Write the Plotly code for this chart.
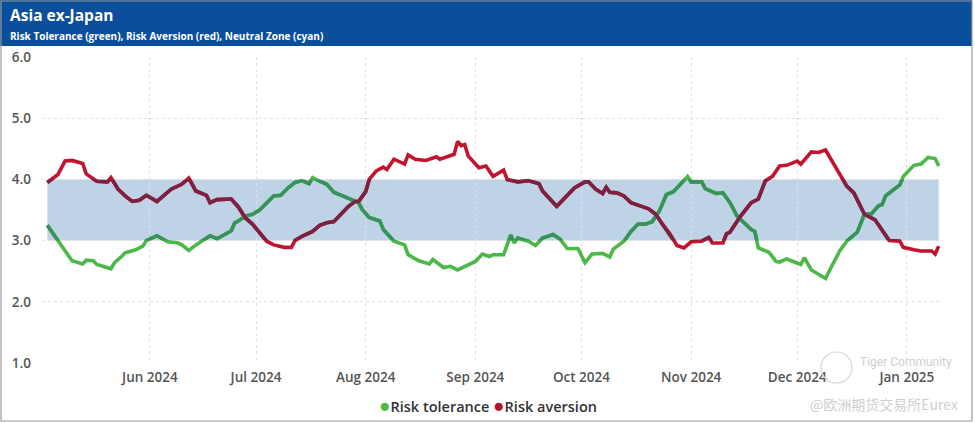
import plotly.graph_objects as go

# ---------------- data ----------------
tol_dates = [
    "2024-05-03","2024-05-07","2024-05-10","2024-05-13","2024-05-14","2024-05-16","2024-05-17","2024-05-21","2024-05-22","2024-05-24","2024-05-25","2024-05-28","2024-05-30","2024-05-31",
    "2024-06-03","2024-06-06","2024-06-09","2024-06-10","2024-06-12","2024-06-14","2024-06-16","2024-06-18","2024-06-20","2024-06-22","2024-06-24","2024-06-25","2024-06-26","2024-06-28","2024-06-30",
    "2024-07-02","2024-07-04","2024-07-06","2024-07-08","2024-07-10","2024-07-12","2024-07-14","2024-07-16","2024-07-17","2024-07-19","2024-07-21","2024-07-23","2024-07-25","2024-07-28","2024-07-30","2024-07-31",
    "2024-08-02","2024-08-05","2024-08-06","2024-08-09","2024-08-12","2024-08-13","2024-08-14","2024-08-16","2024-08-19","2024-08-20","2024-08-23","2024-08-25","2024-08-27","2024-08-30",
    "2024-09-01","2024-09-03","2024-09-05","2024-09-06","2024-09-09","2024-09-11","2024-09-12","2024-09-13","2024-09-16","2024-09-18","2024-09-20","2024-09-23","2024-09-25","2024-09-27","2024-09-30",
    "2024-10-02","2024-10-04","2024-10-07","2024-10-09","2024-10-10","2024-10-13","2024-10-15","2024-10-17","2024-10-19","2024-10-21","2024-10-23","2024-10-25","2024-10-27","2024-10-29","2024-10-31",
    "2024-11-01","2024-11-04","2024-11-05","2024-11-08","2024-11-10","2024-11-12","2024-11-14","2024-11-16","2024-11-18","2024-11-19","2024-11-20","2024-11-23","2024-11-25","2024-11-26","2024-11-28",
    "2024-12-02","2024-12-03","2024-12-05","2024-12-09","2024-12-11","2024-12-13","2024-12-15","2024-12-18","2024-12-20","2024-12-22","2024-12-24","2024-12-25","2024-12-26","2024-12-30","2024-12-31",
    "2025-01-03","2025-01-05","2025-01-07","2025-01-09","2025-01-10",
]
tol_values = [
    3.25,2.93,2.67,2.62,2.68,2.67,2.61,2.54,2.64,2.74,2.80,2.85,2.91,3.00,
    3.08,2.98,2.96,2.93,2.84,2.93,3.00,3.08,3.03,3.10,3.16,3.29,3.32,3.40,3.43,
    3.50,3.62,3.73,3.74,3.86,3.95,3.98,3.93,4.03,3.97,3.92,3.79,3.74,3.67,3.62,3.51,
    3.38,3.32,3.18,2.99,2.93,2.77,2.74,2.67,2.62,2.69,2.56,2.58,2.52,2.61,
    2.66,2.78,2.74,2.77,2.77,3.09,2.96,3.04,2.99,2.92,3.04,3.10,3.02,2.87,2.87,
    2.64,2.78,2.79,2.73,2.86,2.99,3.15,3.27,3.27,3.31,3.48,3.75,3.80,3.92,4.05,
    3.96,3.96,3.85,3.77,3.78,3.62,3.40,3.29,3.18,3.15,2.88,2.81,2.66,2.65,2.70,
    2.61,2.72,2.52,2.38,2.61,2.83,2.99,3.14,3.43,3.44,3.57,3.59,3.73,3.91,4.05,
    4.23,4.25,4.36,4.34,4.22,
]

ave_dates = [
    "2024-05-03","2024-05-06","2024-05-08","2024-05-10","2024-05-13","2024-05-14","2024-05-17","2024-05-20","2024-05-21","2024-05-23","2024-05-25","2024-05-27","2024-05-29","2024-05-31",
    "2024-06-03","2024-06-05","2024-06-07","2024-06-10","2024-06-12","2024-06-14","2024-06-17","2024-06-18","2024-06-20","2024-06-24","2024-06-26","2024-06-28","2024-06-30",
    "2024-07-02","2024-07-04","2024-07-06","2024-07-09","2024-07-11","2024-07-12","2024-07-14","2024-07-17","2024-07-19","2024-07-21","2024-07-23","2024-07-25","2024-07-27","2024-07-29","2024-07-30",
    "2024-08-01","2024-08-02","2024-08-04","2024-08-06","2024-08-07","2024-08-09","2024-08-12","2024-08-13","2024-08-15","2024-08-18","2024-08-21","2024-08-22","2024-08-26","2024-08-27","2024-08-28","2024-08-29","2024-08-30",
    "2024-09-02","2024-09-04","2024-09-06","2024-09-09","2024-09-10","2024-09-13","2024-09-16","2024-09-19","2024-09-20","2024-09-24","2024-09-25","2024-09-27","2024-09-29",
    "2024-10-02","2024-10-03","2024-10-05","2024-10-07","2024-10-08","2024-10-09","2024-10-11","2024-10-13","2024-10-15","2024-10-17","2024-10-18","2024-10-20","2024-10-22","2024-10-24","2024-10-26","2024-10-28","2024-10-30",
    "2024-11-01","2024-11-04","2024-11-06","2024-11-07","2024-11-10","2024-11-11","2024-11-12","2024-11-15","2024-11-18","2024-11-20","2024-11-22","2024-11-24","2024-11-26","2024-11-28",
    "2024-12-01","2024-12-02","2024-12-05","2024-12-07","2024-12-09","2024-12-11","2024-12-13","2024-12-15","2024-12-17","2024-12-20","2024-12-23","2024-12-25","2024-12-27","2024-12-30","2024-12-31",
    "2025-01-03","2025-01-05","2025-01-08","2025-01-09","2025-01-10",
]
ave_values = [
    3.95,4.08,4.30,4.31,4.26,4.09,3.97,3.96,4.03,3.84,3.73,3.64,3.66,3.74,
    3.64,3.74,3.84,3.92,4.02,3.81,3.74,3.62,3.67,3.68,3.55,3.37,3.27,
    3.13,2.99,2.93,2.89,2.89,3.00,3.07,3.15,3.25,3.29,3.31,3.43,3.55,3.64,3.64,
    3.80,4.00,4.14,4.20,4.16,4.33,4.25,4.40,4.33,4.31,4.37,4.33,4.41,4.62,4.55,4.57,4.38,
    4.19,4.22,4.05,4.15,4.00,3.96,3.98,3.93,3.81,3.56,3.62,3.75,3.86,
    3.96,3.96,3.84,3.77,3.87,3.79,3.78,3.73,3.62,3.59,3.56,3.52,3.43,3.26,3.11,2.92,2.88,
    2.98,2.99,3.05,2.96,2.96,3.11,3.14,3.40,3.62,3.68,3.98,4.05,4.22,4.23,
    4.30,4.25,4.45,4.44,4.48,4.29,4.08,3.89,3.78,3.43,3.34,3.18,3.00,2.99,2.89,
    2.85,2.83,2.83,2.78,2.91,
]

neutral_low, neutral_high = 3.0, 4.0
y_ticks = [1, 2, 3, 4, 5, 6]
series_names = ["Risk tolerance", "Risk aversion"]

# ---------------- styling ----------------
W, H = 975, 423
ML, MR, MT, MB = 42, 32, 57, 60
PW, PH = W - ML - MR, H - MT - MB

def px(x):
    return (x - ML) / PW

def py(y):
    return (H - MB - y) / PH

GREEN_OUT = "#4CB848"
GREEN_IN = "#37935A"
RED_OUT = "#C2142E"
RED_IN = "#7C2141"
BAND = "#BFD3E6"
GRID = "#E0E0E0"
FONT = "Open Sans"

x_range = ["2024-05-01 12:00", "2025-01-11 05:00"]
y_lo, y_hi = 1, 6
band_dom = [(neutral_low - y_lo) / (y_hi - y_lo), (neutral_high - y_lo) / (y_hi - y_lo)]

fig = go.Figure()

# full lines (outside-zone colours)
fig.add_trace(go.Scatter(x=tol_dates, y=tol_values, mode="lines", name=series_names[0],
                         line=dict(color=GREEN_OUT, width=3.6), showlegend=False,
                         xaxis="x", yaxis="y"))
fig.add_trace(go.Scatter(x=ave_dates, y=ave_values, mode="lines", name=series_names[1],
                         line=dict(color=RED_OUT, width=3.6), showlegend=False,
                         xaxis="x", yaxis="y"))
# same lines on a subplot limited to the neutral zone (clipped -> zone colours)
fig.add_trace(go.Scatter(x=tol_dates, y=tol_values, mode="lines", name=series_names[0],
                         line=dict(color=GREEN_IN, width=3.6), showlegend=False,
                         xaxis="x2", yaxis="y2"))
fig.add_trace(go.Scatter(x=ave_dates, y=ave_values, mode="lines", name=series_names[1],
                         line=dict(color=RED_IN, width=3.6), showlegend=False,
                         xaxis="x2", yaxis="y2"))

axis_font = dict(family=FONT, size=13.5, color="#555555", weight=600)

legend_text = (
    f"<span style='color:{GREEN_OUT};font-size:19px'>●</span>{series_names[0]} "
    f"<span style='color:#B01530;font-size:19px'>●</span>{series_names[1]}"
)

fig.update_layout(
    width=W, height=H,
    margin=dict(l=ML, r=MR, t=MT, b=MB),
    paper_bgcolor="white",
    plot_bgcolor="rgba(0,0,0,0)",
    font=dict(family=FONT),
    showlegend=False,
    xaxis=dict(type="date", range=x_range, domain=[0, 1],
               tickformat="%b %Y", dtick="M1", tick0="2024-06-01",
               showgrid=True, gridcolor=GRID, griddash="dot", gridwidth=1,
               showline=False, zeroline=False, ticks="", tickfont=axis_font,
               ticklabelstandoff=4, fixedrange=True, automargin=False),
    yaxis=dict(range=[y_lo, y_hi], tickvals=y_ticks, tickformat=".1f",
               showgrid=True, gridcolor=GRID, griddash="dot", gridwidth=1,
               showline=False, zeroline=False, ticks="", tickfont=axis_font,
               ticklabelstandoff=10, fixedrange=True, automargin=False),
    xaxis2=dict(type="date", range=x_range, domain=[0, 1], anchor="y2",
                visible=False, fixedrange=True),
    yaxis2=dict(range=[neutral_low, neutral_high], domain=band_dom, anchor="x2",
                visible=False, fixedrange=True),
    shapes=[
        # neutral zone band
        dict(type="rect", xref="x", yref="y", x0=tol_dates[0], x1=tol_dates[-1],
             y0=neutral_low, y1=neutral_high, fillcolor=BAND, line=dict(width=0),
             layer="below"),
        # header bar
        dict(type="rect", xref="paper", yref="paper", x0=px(0), x1=px(972),
             y0=py(46), y1=py(0), fillcolor="#0B4F9C", line=dict(width=0), layer="above"),
        # outer frame
        dict(type="rect", xref="paper", yref="paper", x0=px(1), x1=px(972),
             y0=py(421), y1=py(1), fillcolor="rgba(0,0,0,0)",
             line=dict(color="#9A9A9A", width=1.2), layer="above"),
        # watermark logo ring
        dict(type="circle", xref="paper", yref="paper", x0=px(821), x1=px(852),
             y0=py(383), y1=py(352), fillcolor="rgba(0,0,0,0)",
             line=dict(color="#D6D6D6", width=1.2), layer="above"),
    ],
    annotations=[
        dict(text="Asia ex-Japan", xref="paper", yref="paper", x=px(8), y=py(15),
             xanchor="left", yanchor="middle", showarrow=False,
             font=dict(family=FONT, size=15.5, color="white", weight="bold")),
        dict(text="Risk Tolerance (green), Risk Aversion (red), Neutral Zone (cyan)",
             xref="paper", yref="paper", x=px(8), y=py(36),
             xanchor="left", yanchor="middle", showarrow=False,
             font=dict(family=FONT, size=10, color="white", weight="bold")),
        dict(text=legend_text, xref="paper", yref="paper", x=px(488), y=py(405),
             xanchor="center", yanchor="middle", showarrow=False,
             font=dict(family=FONT, size=14.5, color="#333333", weight=600)),
        dict(text="Tiger Community", xref="paper", yref="paper", x=px(858), y=py(362),
             xanchor="left", yanchor="middle", showarrow=False,
             font=dict(family="Roboto", size=12, color="#D0D0D0")),
        dict(text="@欧洲期货交易所Eurex", xref="paper", yref="paper", x=px(960), y=py(404),
             xanchor="right", yanchor="middle", showarrow=False,
             font=dict(family="Noto Sans CJK SC", size=14, color="#CFCFCF")),
    ],
)

fig.write_html("out.html", config={"displayModeBar": False},
               post_script="document.body.style.margin='0px';")
